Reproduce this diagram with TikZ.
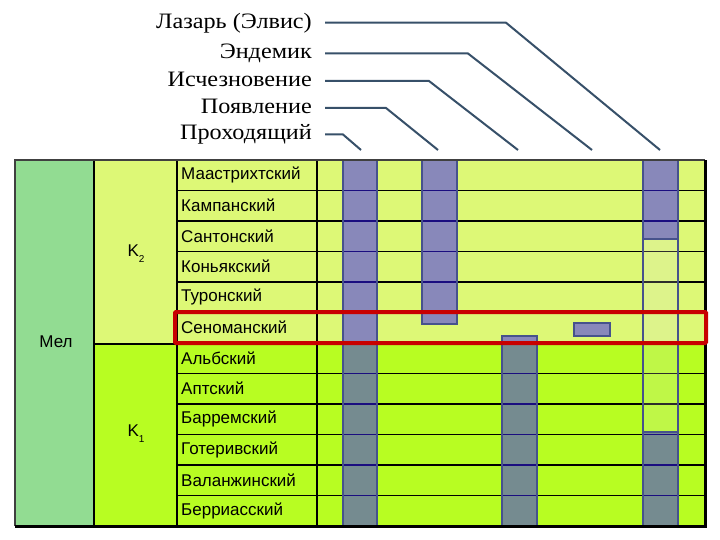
\documentclass[tikz,border=0pt]{standalone}
\usepackage{fontspec}
\setmainfont{Liberation Serif}
\newfontfamily\labfont[FakeStretch=1.1]{Liberation Serif}
\newfontfamily\tabfont{Liberation Sans}
\definecolor{melc}{RGB}{146,220,146}
\definecolor{upc}{RGB}{221,248,118}
\definecolor{loc}{RGB}{184,253,34}
\definecolor{barc}{RGB}{52,26,255}
\definecolor{barline}{RGB}{70,82,140}
\definecolor{connc}{RGB}{55,80,105}
\definecolor{redc}{RGB}{200,0,0}
\newcommand{\lowsub}[1]{\raisebox{-0.35em}{\fontsize{10}{12}\selectfont #1}}
\begin{document}
\begin{tikzpicture}[x=1pt,y=-1pt,
  lab/.style={anchor=east, font=\labfont\fontsize{22}{26}\selectfont, inner ysep=0pt, inner xsep=13pt, text height=15pt, text depth=4pt},
  conn/.style={draw=connc, line width=2pt},
  stage/.style={anchor=west, font=\tabfont\fontsize{17}{20}\selectfont, inner sep=0pt},
  era/.style={font=\tabfont\fontsize{17}{20}\selectfont, inner sep=0pt},
  grid/.style={draw=black, line width=1.7pt},
  bar/.style={fill=barc, fill opacity=0.5, draw=barline, draw opacity=1, line width=1.5pt},
  ghost/.style={fill=white!75!gray, fill opacity=0.2, draw=barline, draw opacity=1, line width=1.5pt},
  redbox/.style={draw=redc, line width=4pt, rounded corners=1pt}]
\useasboundingbox (0,0) rectangle (720,540);
% backgrounds
\fill[melc] (15,160) rectangle (94,526);
\fill[upc] (94,160) rectangle (705,344);
\fill[loc] (94,344) rectangle (705,526);
% horizontal grid lines
\foreach \i in {1,...,11}{
  \draw[grid] (177,{160+30.5*\i}) -- (705,{160+30.5*\i});
}
\draw[grid] (94,344) -- (177,344);
% vertical lines
\draw[grid] (94,160) -- (94,526);
\draw[grid] (177,160) -- (177,526);
\draw[grid] (317,160) -- (317,526);
% stage names
\foreach \n/\t [count=\i from 0] in {s1/Маастрихтский,s2/Кампанский,s3/Сантонский,s4/Коньякский,s5/Туронский,s6/Сеноманский,s7/Альбский,s8/Аптский,s9/Барремский,s10/Готеривский,s11/Валанжинский,s12/Берриасский}{
  \node[stage] (\n) at (181,{175.25+30.5*\i}) {\t};
}
\node[era] (mel) at (56,342) {Мел};
\node[era] (k2) at (136,254) {K\lowsub{2}};
\node[era] (k1) at (136,434) {K\lowsub{1}};
% bars
\path[bar] (343,160) rectangle (377,526);
\path[bar] (422,160) rectangle (457,324);
\path[bar] (502,336) rectangle (537,526);
\path[bar] (574,323) rectangle (610,336);
\path[bar] (643,160) rectangle (678,239);
\path[ghost] (643,239) rectangle (678,432);
\path[bar] (643,432) rectangle (678,526);
% outer border
\draw[draw=black!75, line width=1.2pt] (15,526) -- (15,160) -- (705,160);
\draw[draw=black, line width=3pt] (15,526) -- (705,526) -- (705,160);
% red frame
\draw[redbox] (175,312) rectangle (706,343);
% labels
\node[lab] (lz) at (325,22.7) {Лазарь (Элвис)};
\node[lab] (en) at (325,53.5) {Эндемик};
\node[lab] (is) at (325,81) {Исчезновение};
\node[lab] (po) at (325,108) {Появление};
\node[lab] (pr) at (325,134.5) {Проходящий};
\coordinate (lzk) at (506,22.7);
\coordinate (enk) at (468,53.5);
\coordinate (isk) at (429,81);
\coordinate (pok) at (386,108);
\coordinate (prk) at (343,134.5);
\coordinate (b5) at (660,150);
\coordinate (b4) at (592,150);
\coordinate (b3) at (518,150);
\coordinate (b2) at (438,150);
\coordinate (b1) at (361,150);
\draw[conn] (lz.east) -- (lzk) -- (b5);
\draw[conn] (en.east) -- (enk) -- (b4);
\draw[conn] (is.east) -- (isk) -- (b3);
\draw[conn] (po.east) -- (pok) -- (b2);
\draw[conn] (pr.east) -- (prk) -- (b1);
\end{tikzpicture}
\end{document}
